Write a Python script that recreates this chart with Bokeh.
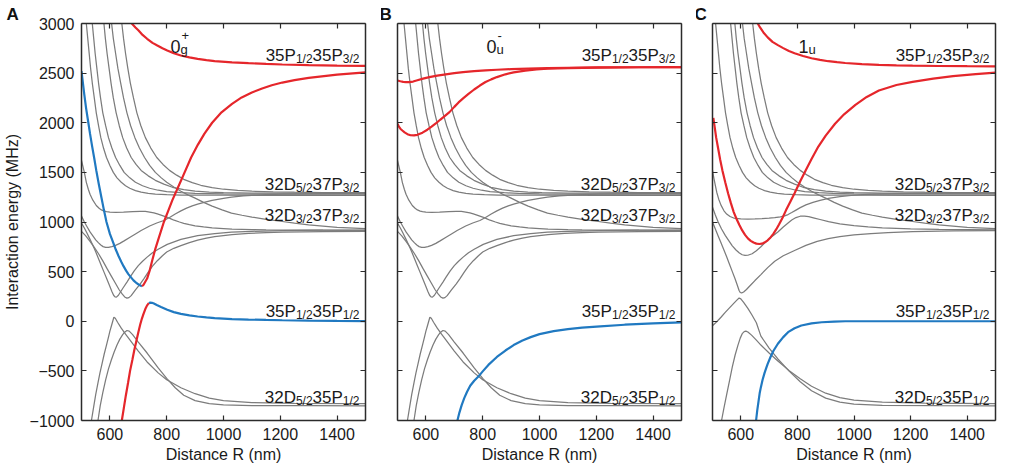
from bokeh.plotting import figure
from bokeh.layouts import row
from bokeh.models import Range1d, LinearAxis, Label, FixedTicker
from bokeh.embed import file_html
from bokeh.resources import INLINE

FONT = "Liberation Sans"
RED = "#e5262b"
BLUE = "#2079c1"
GRAY = "#7c7c7c"
AX = "#2b2b2b"

X_TICKS = [600, 800, 1000, 1200, 1400]
Y_TICKS = [-1000, -500, 0, 500, 1000, 1500, 2000, 2500, 3000]
PANEL_LETTERS = ["A", "B", "C"]
SYMMETRY = [("0", "g", "+"), ("0", "u", "-"), ("1", "u", "")]

# ---------------- curves (R in nm, energy in MHz) ----------------
# Panel A (0g+)
A_red_top = [(677,3000),(690,2960),(701,2929),(715,2885),(731,2846),(750,2805),(767,2778),(785,2750),(802,2728),(825,2700),(850,2678),(880,2658),(909,2644),(940,2631),(969,2620),(1030,2608),(1088,2600),(1150,2593),(1207,2587),(1300,2580),(1400,2576),(1500,2573)]
A_red_rise = [(713,353),(718,365),(722,385),(731,430),(740,510),(749,612),(760,730),(773,847),(790,1000),(805,1110),(820,1220),(840,1350),(860,1480),(886,1650),(910,1780),(933,1890),(960,2000),(993,2105),(1030,2190),(1064,2255),(1100,2305),(1136,2345),(1170,2378),(1207,2405),(1250,2430),(1300,2452),(1400,2485),(1500,2508)]
A_red_low = [(642,-1000),(649,-875),(656,-750),(664,-620),(671,-500),(679,-390),(686,-290),(694,-190),(701,-100),(707,-30),(713,30),(719,80),(725,125),(731,160),(737,182)]
A_blue_left = [(500,2520),(505,2400),(510,2280),(516,2150),(523,2020),(530,1890),(537,1770),(545,1640),(552,1520),(561,1380),(570,1250),(579,1120),(588,1000),(600,880),(612,790),(621,720),(630,660),(640,600),(648,555),(657,510),(665,475),(675,440),(683,412),(692,390),(700,372),(707,361),(713,353)]
A_blue_right = [(737,182),(742,188),(748,186),(755,178),(765,163),(780,143),(802,115),(825,92),(850,74),(880,60),(909,48),(940,39),(969,32),(1030,22),(1088,17),(1150,13),(1207,10),(1300,6),(1400,3),(1500,1)]

# Panel B (0u-)
B_red_upper = [(500,2426),(510,2418),(520,2412),(530,2409),(540,2409),(555,2415),(570,2428),(590,2445),(612,2460),(640,2475),(670,2488),(700,2500),(731,2510),(770,2520),(810,2528),(850,2534),(900,2540),(960,2546),(1028,2550),(1100,2554),(1207,2557),(1350,2559),(1500,2560)]
B_red_lower = [(500,1990),(505,1960),(510,1940),(517,1922),(525,1903),(535,1885),(546,1874),(558,1872),(570,1878),(588,1900),(605,1930),(620,1960),(636,1995),(650,2030),(665,2065),(683,2107),(700,2160),(715,2205),(731,2245),(750,2290),(770,2335),(790,2375),(810,2410),(830,2437),(850,2460),(880,2488),(909,2508),(950,2526),(990,2537),(1028,2544),(1100,2551),(1207,2556),(1350,2559),(1500,2560)]
B_blue = [(711,-1000),(718,-920),(726,-845),(735,-775),(745,-710),(756,-650),(770,-600),(784,-560),(800,-505),(820,-440),(850,-360),(880,-295),(909,-240),(940,-195),(969,-160),(1000,-130),(1050,-100),(1100,-80),(1150,-65),(1214,-52),(1300,-35),(1400,-22),(1500,-12)]

# Panel C (1u)
C_red_top = [(660,3000),(668,2960),(680,2910),(695,2860),(712,2815),(731,2782),(750,2752),(770,2722),(790,2700),(820,2672),(850,2650),(880,2633),(909,2620),(940,2610),(969,2602),(1028,2590),(1088,2583),(1150,2578),(1207,2575),(1300,2572),(1400,2570),(1500,2569)]
C_red_well = [(503,2050),(508,1950),(513,1850),(520,1740),(527,1630),(535,1520),(545,1400),(555,1290),(565,1190),(575,1100),(585,1030),(595,970),(605,915),(615,870),(625,835),(635,810),(645,793),(655,782),(665,778),(675,782),(685,795),(695,815),(705,845),(715,880),(725,925),(735,975),(748,1045),(760,1120),(775,1205),(790,1290),(810,1410),(830,1525),(850,1635),(874,1760),(900,1870),(933,1990),(965,2085),(1005,2180),(1045,2260),(1088,2325),(1150,2380),(1207,2412),(1280,2445),(1350,2470),(1430,2490),(1500,2505)]
C_blue = [(654,-1000),(658,-900),(663,-800),(667,-720),(671,-664),(677,-590),(684,-520),(690,-470),(695,-429),(705,-360),(715,-300),(731,-227),(750,-160),(767,-110),(790,-70),(814,-43),(850,-22),(886,-10),(930,-3),(969,0),(1050,0),(1200,0),(1500,0)]

# Grey curves shared by panels A and B
G_low1 = [(535,-1000),(543,-860),(550,-740),(558,-620),(565,-520),(573,-420),(580,-330),(588,-240),(595,-160),(600,-100),(605,-50),(610,0),(614,41),(619,30),(627,-10),(640,-70),(655,-130),(671,-190),(700,-300),(731,-410),(770,-520),(800,-590),(850,-670),(900,-730),(950,-775),(1000,-800),(1100,-820),(1250,-828),(1500,-830)]
G_low2 = [(558,-1000),(566,-850),(575,-720),(585,-590),(595,-480),(605,-390),(615,-310),(625,-240),(635,-180),(645,-135),(652,-110),(660,-93),(668,-100),(680,-135),(700,-210),(731,-320),(770,-470),(800,-575),(830,-670),(860,-745),(900,-800),(950,-830),(1000,-842),(1100,-849),(1300,-851),(1500,-852)]
G_v1 = [(500,990),(510,940),(520,885),(530,825),(540,765),(550,700),(560,630),(570,560),(580,490),(590,420),(600,350),(607,300),(613,262),(618,245),(623,243),(630,262),(645,330),(660,395),(671,444),(685,505),(700,560),(715,605),(731,646),(750,690),(770,725),(802,775),(850,825),(909,862),(969,884),(1028,897),(1100,906),(1207,913),(1350,917),(1500,918)]
G_v2 = [(500,905),(515,860),(530,805),(545,745),(560,680),(575,608),(590,530),(605,455),(620,380),(632,320),(643,275),(652,245),(660,233),(667,238),(675,258),(690,315),(707,377),(720,430),(735,495),(750,555),(767,610),(785,660),(800,697),(825,735),(850,762),(880,793),(909,818),(940,838),(969,852),(1030,873),(1088,886),(1150,893),(1207,898),(1350,903),(1500,905)]
G_dip = [(500,1060),(510,1000),(520,950),(530,900),(540,860),(550,820),(560,790),(568,768),(576,752),(585,745),(595,745),(607,752),(620,765),(635,785),(650,810),(671,847),(690,880),(710,915),(740,960),(765,990),(790,1015),(810,1045),(830,1080),(850,1112),(870,1140),(890,1163),(909,1180),(935,1200),(960,1218),(1000,1238),(1028,1250),(1070,1262),(1100,1268),(1150,1275),(1207,1280),(1300,1284),(1400,1286),(1500,1287)]
G_plat = [(500,1620),(505,1560),(510,1500),(517,1400),(524,1330),(530,1280),(540,1220),(552,1166),(562,1138),(570,1122),(580,1110),(588,1104),(600,1100),(620,1098),(648,1099),(680,1104),(707,1108),(725,1106),(740,1100),(755,1092),(767,1082),(785,1065),(800,1050),(815,1032),(826,1018),(845,1000),(860,987),(880,973),(900,962),(930,950),(960,941),(1000,934),(1030,929),(1100,924),(1150,921),(1250,919),(1350,917),(1500,916)]

# Steep repulsive grey curves (named by where they leave the top edge)
S511 = [(511,3000),(516,2850),(521,2700),(526,2550),(532,2400),(539,2250),(546,2100),(554,1970),(562,1850),(572,1740),(582,1650),(594,1570),(606,1500),(619,1445),(634,1400),(649,1365),(664,1340),(684,1316),(704,1300),(729,1289),(754,1282),(794,1276),(844,1272),(1000,1270),(1200,1269),(1500,1268)]
S517 = [(517,3000),(522,2850),(527,2700),(532,2550),(538,2400),(545,2250),(552,2100),(560,1970),(568,1850),(578,1740),(588,1650),(600,1570),(612,1500),(625,1445),(640,1400),(655,1365),(670,1340),(690,1316),(710,1300),(735,1289),(760,1282),(800,1276),(850,1272),(1000,1270),(1200,1269),(1500,1268)]
S523 = [(523,3000),(528,2850),(533,2700),(538,2550),(544,2400),(551,2250),(558,2100),(566,1970),(574,1850),(584,1740),(594,1650),(606,1570),(618,1500),(631,1445),(646,1400),(661,1365),(676,1340),(696,1316),(716,1300),(741,1289),(766,1282),(806,1276),(856,1272),(1000,1270),(1200,1269),(1500,1268)]
S538 = [(538,3000),(543,2850),(548,2700),(554,2550),(560,2400),(567,2250),(575,2100),(585,1970),(595,1850),(607,1745),(620,1650),(635,1570),(650,1500),(670,1445),(690,1400),(715,1365),(740,1340),(770,1320),(800,1305),(850,1295),(900,1288),(1000,1284),(1100,1282),(1300,1281),(1500,1280)]
S564 = [(564,3000),(569,2850),(574,2700),(580,2550),(586,2400),(593,2250),(601,2100),(611,1970),(621,1850),(633,1745),(646,1650),(661,1570),(676,1500),(696,1445),(716,1400),(741,1365),(766,1340),(796,1320),(826,1305),(876,1295),(926,1288),(1000,1284),(1100,1282),(1300,1281),(1500,1280)]
S579 = [(579,3000),(584,2850),(590,2700),(597,2550),(604,2400),(612,2250),(622,2100),(633,1970),(645,1850),(659,1745),(675,1650),(692,1580),(710,1520),(735,1465),(760,1420),(790,1382),(820,1350),(860,1327),(900,1310),(950,1301),(1000,1296),(1100,1292),(1200,1290),(1500,1290)]
S588 = [(588,3000),(593,2850),(599,2700),(606,2550),(613,2400),(621,2250),(631,2100),(642,1970),(654,1850),(668,1745),(684,1650),(701,1580),(719,1520),(744,1465),(769,1420),(799,1382),(829,1350),(869,1327),(909,1310),(959,1301),(1009,1296),(1100,1292),(1200,1290),(1500,1290)]
S606 = [(606,3000),(612,2850),(620,2700),(628,2550),(638,2400),(648,2250),(660,2100),(673,1970),(688,1850),(704,1745),(722,1650),(740,1570),(760,1500),(780,1447),(800,1400),(825,1352),(850,1310),(875,1273),(900,1240),(930,1198),(960,1160),(995,1122),(1028,1090),(1065,1068),(1100,1050),(1150,1027),(1207,1005),(1250,988),(1300,972),(1400,946),(1500,932)]
S642 = [(642,3000),(648,2850),(655,2700),(663,2550),(672,2400),(683,2250),(695,2100),(709,1970),(725,1850),(744,1745),(765,1650),(787,1580),(810,1520),(835,1472),(860,1430),(890,1397),(920,1370),(960,1347),(1000,1330),(1050,1318),(1100,1310),(1175,1304),(1250,1300),(1350,1297),(1500,1295)]

# Grey curves of panel C
C_plat = [(500,1520),(505,1440),(510,1370),(515,1300),(522,1230),(530,1170),(540,1115),(550,1080),(562,1055),(575,1040),(600,1032),(625,1030),(650,1031),(675,1035),(700,1040),(720,1045),(740,1052),(755,1062),(767,1075),(780,1095),(795,1120),(810,1145),(830,1172),(855,1198),(880,1218),(910,1237),(950,1255),(990,1267),(1030,1275),(1100,1283),(1200,1288),(1350,1290),(1500,1291)]
C_vbump = [(500,1150),(510,1070),(520,1000),(532,930),(545,865),(558,810),(570,760),(583,718),(595,688),(605,670),(615,663),(625,665),(640,680),(655,710),(671,750),(685,790),(700,830),(715,865),(731,900),(750,950),(767,990),(780,1020),(795,1045),(810,1058),(825,1060),(840,1055),(860,1040),(880,1025),(910,1003),(950,982),(1000,963),(1050,950),(1100,940),(1200,930),(1300,925),(1500,920)]
C_xup = [(500,1000),(510,930),(520,860),(530,790),(540,720),(550,650),(560,575),(570,500),(580,425),(588,360),(594,310),(598,290),(603,285),(610,295),(620,320),(635,365),(650,410),(671,470),(695,540),(720,605),(750,660),(790,713),(830,765),(870,805),(909,832),(950,852),(1000,870),(1060,884),(1120,893),(1207,902),(1350,910),(1500,913)]
C_xlow = [(500,-45),(515,-5),(530,40),(545,90),(560,135),(575,180),(587,215),(594,234),(600,225),(610,190),(625,130),(640,60),(655,-15),(671,-150),(700,-270),(731,-380),(770,-500),(810,-610),(850,-700),(900,-775),(950,-815),(1000,-835),(1100,-848),(1300,-851),(1500,-852)]
C_peak = [(532,-1000),(540,-880),(550,-740),(560,-600),(570,-460),(580,-340),(590,-240),(598,-170),(605,-125),(612,-105),(618,-100),(625,-108),(638,-140),(655,-190),(671,-240),(700,-320),(731,-400),(770,-495),(810,-580),(850,-655),(900,-725),(950,-770),(1000,-795),(1100,-815),(1250,-825),(1500,-830)]

PANEL_GRAY = [
    [G_low1, G_low2, G_v1, G_v2, G_dip, G_plat, S517, S538, S579, S606, S642],
    [G_low1, G_low2, G_v1, G_v2, G_dip, G_plat, S523, S564, S588, S606, S642],
    [C_peak, C_xlow, C_xup, C_vbump, C_plat, S511, S564, S579, S606, S642],
]
PANEL_RED = [[A_red_top, A_red_rise, A_red_low], [B_red_upper, B_red_lower], [C_red_top, C_red_well]]
PANEL_BLUE = [[A_blue_left, A_blue_right], [B_blue], [C_blue]]

STATE_LABELS = [
    (32, [("35P", 0), ("1/2", 1), ("35P", 0), ("3/2", 1)]),
    (161, [("32D", 0), ("5/2", 1), ("37P", 0), ("3/2", 1)]),
    (192, [("32D", 0), ("3/2", 1), ("37P", 0), ("3/2", 1)]),
    (288, [("35P", 0), ("1/2", 1), ("35P", 0), ("1/2", 1)]),
    (374, [("32D", 0), ("5/2", 1), ("35P", 0), ("1/2", 1)]),
]

CW = {'0': .556, '1': .556, '2': .556, '3': .556, '5': .556, '7': .556, 'P': .667, 'D': .722, '/': .278}
MAIN, SUB = 17, 12


def tw(s, size):
    return sum(CW[c] for c in s) * size


def lbl(p, dx, dy, text, size, style="normal"):
    # dx, dy: pixel offsets from the frame's top-left corner (dy downward)
    p.add_layout(Label(x=500, y=3000, x_offset=dx, y_offset=-dy, text=text,
                       text_font=FONT, text_font_size=f"{size}px", text_font_style=style,
                       text_color="#1a1a1a", text_baseline="alphabetic", text_align="left"))


def style_axis(ax, ticks, labels):
    ax.major_tick_in = 5
    ax.major_tick_out = 0
    ax.minor_tick_in = 0
    ax.minor_tick_out = 0
    ax.axis_line_color = AX
    ax.axis_line_width = 1.5
    ax.major_tick_line_color = AX
    ax.major_tick_line_width = 1.2
    ax.major_label_text_font = FONT
    ax.major_label_text_color = "#1a1a1a"
    if labels:
        ax.major_label_text_font_size = "16px"
        ax.major_label_standoff = 7
    else:
        ax.major_label_overrides = {t: "" for t in ticks}
        ax.major_label_text_font_size = "1px"
        ax.major_label_standoff = 0


def make_panel(i, left, right, fw):
    p = figure(frame_width=fw, frame_height=397, x_range=Range1d(500, 1500), y_range=Range1d(-1000, 3000),
               output_backend="svg", toolbar_location=None, x_axis_location=None, y_axis_location=None,
               min_border_left=left, min_border_right=right, min_border_top=23, min_border_bottom=49)
    p.outline_line_color = None
    p.background_fill_color = "white"
    p.border_fill_color = "white"
    for g in p.grid:
        g.visible = False

    # panel letter as the figure title
    p.title.text = PANEL_LETTERS[i]
    p.title.align = "left"
    p.title.offset = -left + (3 if i == 0 else -2)
    p.title.text_font = FONT
    p.title.text_font_size = "17px"
    p.title.text_font_style = "bold"
    p.title.text_color = "#111111"
    p.title.standoff = 0

    for loc, lab in (("below", True), ("above", False)):
        ax = LinearAxis(ticker=FixedTicker(ticks=X_TICKS))
        style_axis(ax, X_TICKS, lab)
        if lab:
            ax.axis_label = "Distance R (nm)"
            ax.axis_label_text_font = FONT
            ax.axis_label_text_font_size = "16px"
            ax.axis_label_text_font_style = "normal"
            ax.axis_label_text_color = "#1a1a1a"
            ax.axis_label_standoff = 3
        p.add_layout(ax, loc)
    for loc, lab in (("left", i == 0), ("right", False)):
        ax = LinearAxis(ticker=FixedTicker(ticks=Y_TICKS))
        style_axis(ax, Y_TICKS, lab)
        if lab:
            ax.axis_label = "Interaction energy (MHz)"
            ax.axis_label_text_font = FONT
            ax.axis_label_text_font_size = "16px"
            ax.axis_label_text_font_style = "normal"
            ax.axis_label_text_color = "#1a1a1a"
            ax.axis_label_standoff = 6
        p.add_layout(ax, loc)

    for c in PANEL_GRAY[i]:
        p.line([r for r, e in c], [e for r, e in c], line_color=GRAY, line_width=1.25)
    for c in PANEL_BLUE[i]:
        p.line([r for r, e in c], [e for r, e in c], line_color=BLUE, line_width=2.2)
    for c in PANEL_RED[i]:
        p.line([r for r, e in c], [e for r, e in c], line_color=RED, line_width=2.2)

    # state labels, right aligned near the frame's right edge
    for dy, parts in STATE_LABELS:
        total = sum(tw(t, SUB if s else MAIN) for t, s in parts)
        x = fw - 6 - total
        for t, s in parts:
            size = SUB if s else MAIN
            lbl(p, x, dy + (3 if s else 0), t, size)
            x += tw(t, size)

    # symmetry label
    base, sub, sup = SYMMETRY[i]
    bx = 89 if i < 2 else 86
    lbl(p, bx, 23, base, 18)
    lbl(p, bx + 10, 26, sub, 13)
    if sup:
        lbl(p, bx + 11, 12, sup, 13)
    return p


pA = make_panel(0, 78, 16, 284)
pB = make_panel(1, 16, 15, 284)
pC = make_panel(2, 16, 19, 283)
layout = row(pA, pB, pC)
open("out.html", "w").write(file_html(layout, INLINE))
